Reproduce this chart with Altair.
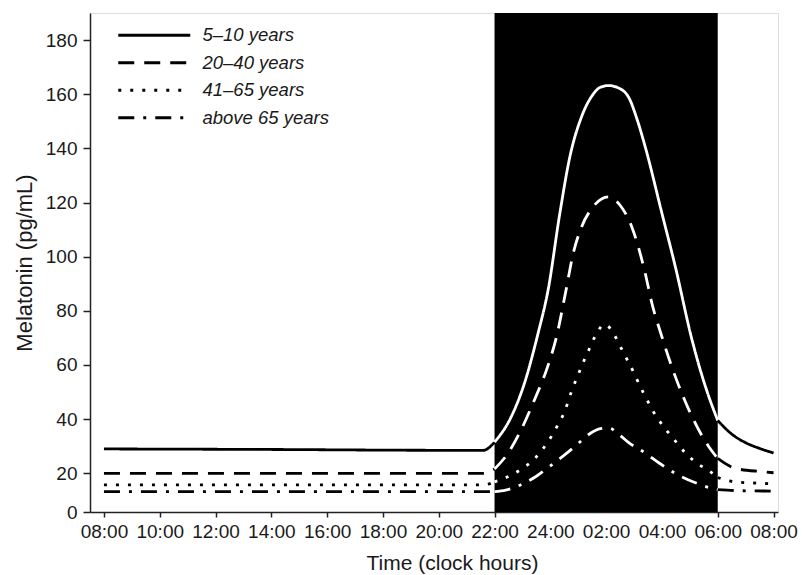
import altair as alt
import pandas as pd

# ---------------- data ----------------
series_names = ["5–10 years", "20–40 years", "41–65 years", "above 65 years"]

tick_hours = [8, 10, 12, 14, 16, 18, 20, 22, 24, 26, 28, 30, 32]
tick_labels = ["08:00", "10:00", "12:00", "14:00", "16:00", "18:00", "20:00",
               "22:00", "24:00", "02:00", "04:00", "06:00", "08:00"]
y_ticks = [0, 20, 40, 60, 80, 100, 120, 140, 160, 180]

night_start = [22]
night_end = [30]

h_510 = [8, 14, 20, 21.6, 22.0, 22.6, 23.07, 23.56, 23.92, 24.34, 24.7, 25.12, 25.5,
         25.8, 26.09, 26.4, 26.8, 27.1, 27.4, 28.0, 28.48, 29.08, 29.56, 30.0, 30.5, 31.0,
         31.5, 32]
v_510 = [29.0, 28.8, 28.5, 28.5, 31.5, 40.9, 53.2, 71.7, 87.7, 116, 136.9, 151.7, 159.5,
         162.6, 163.2, 162.5, 159, 151, 140.6, 116, 96.3, 69.2, 52, 39.5, 34.5, 31.3,
         29.2, 27.5]

h_2040 = [8, 21.6, 22.0, 22.48, 22.95, 23.43, 23.86, 24.22, 24.55, 24.82, 25.12, 25.5,
          26.08, 26.5, 26.92, 27.4, 27.64, 28.0, 28.48, 29.08, 29.68, 30.0, 30.64, 31.6, 32]
v_2040 = [20, 20, 21.6, 27.4, 36, 47.1, 58.1, 70.4, 87, 101.2, 111, 118,
          122.1, 119, 111, 93.9, 82.8, 70.4, 55.7, 40.9, 29.8, 25.5, 21.8, 20.6, 20.2]

h_4165 = [8, 21.6, 22.0, 22.6, 23.0, 23.4, 23.7, 24.0, 24.25, 24.5, 24.75, 25.0, 25.2,
          25.4, 25.6, 25.95, 26.3, 26.55, 26.75, 27.0, 27.2, 27.4, 27.65, 27.9, 28.2,
          28.5, 28.85, 29.25, 29.7, 30.0, 30.6, 31.6, 32]
v_4165 = [14, 14, 15.6, 19.1, 21.8, 25, 28.6, 33, 37.5, 42.5, 50, 56.5, 61.5,
          66, 70.5, 75, 71, 66, 62, 57, 52.5, 48.5, 43.5, 39.5, 35.4,
          31.7, 27.4, 23.8, 20.8, 17.8, 15.6, 14.8, 14.5]

h_65 = [8, 21.6, 22.0, 22.4, 23.0, 23.5, 24.0, 24.5, 25.0, 25.4, 25.8, 26.1, 26.5,
        26.8, 27.4, 27.9, 28.5, 29.2, 29.8, 30.0, 30.6, 32]
v_65 = [10.5, 10.5, 10.5, 11.3, 14.5, 18.5, 22.7, 26.7, 31, 34.5, 36.5, 36.7, 34,
        31.4, 27.5, 23.8, 19.8, 15.1, 12.2, 11.6, 11.1, 10.8]

series_data = [(h_510, v_510), (h_2040, v_2040), (h_4165, v_4165), (h_65, v_65)]

rows = []
for name, (hs, vs) in zip(series_names, series_data):
    for h, v in zip(hs, vs):
        phases = []
        if h <= night_start[0]:
            phases.append("before")
        if night_start[0] <= h <= night_end[0]:
            phases.append("night")
        if h >= night_end[0]:
            phases.append("after")
        for p in phases:
            rows.append({"series": name, "hour": h, "value": v, "phase": p})
df = pd.DataFrame(rows)

rect_df = pd.DataFrame({"start": night_start, "end": night_end,
                        "low": [0], "high": [190]})

# ---------------- styling ----------------
FONT = "Liberation Sans"
TXT = "#1a1a1a"

x_scale = alt.Scale(domain=[7.5, 32.16], nice=False, zero=False)
y_scale = alt.Scale(domain=[0, 20, 190], range=[499, 460.3, 0], nice=False, zero=False)

label_expr = "[" + ",".join("'%s'" % t for t in tick_labels) + "][round((datum.value-8)/2)]"

x_axis = alt.Axis(values=tick_hours, labelExpr=label_expr, title="Time (clock hours)",
                  grid=False, tickSize=5, labelPadding=5, labelFlush=False,
                  labelFont=FONT, labelFontSize=19, labelColor=TXT,
                  titleFont=FONT, titleFontSize=21, titleFontWeight="normal",
                  titleColor=TXT, titleX=362, titlePadding=11,
                  domainColor="#222", tickColor="#222", domainWidth=1.5, tickWidth=1.5,
                  tickOpacity={"condition": {"test": "datum.value > 22.5 && datum.value < 29.5",
                                             "value": 0}, "value": 1})
y_axis = alt.Axis(values=y_ticks, title="Melatonin (pg/mL)", grid=False, tickSize=7,
                  labelPadding=6, labelFont=FONT, labelFontSize=19, labelColor=TXT,
                  titleFont=FONT, titleFontSize=22, titleFontWeight="normal",
                  titleColor=TXT, titlePadding=9,
                  domainColor="#222", tickColor="#222", domainWidth=1.5, tickWidth=1.5)

rect = alt.Chart(rect_df).mark_rect(color="black").encode(
    x=alt.X("start:Q", scale=x_scale, axis=x_axis),
    x2="end:Q",
    y=alt.Y("low:Q", scale=y_scale, axis=y_axis),
    y2="high:Q",
)

lines = alt.Chart(df).mark_line(strokeWidth=2.8, interpolate="monotone", strokeCap="butt").encode(
    x=alt.X("hour:Q", scale=x_scale, axis=x_axis),
    y=alt.Y("value:Q", scale=y_scale, axis=y_axis),
    color=alt.Color("phase:N", scale=alt.Scale(domain=["before", "night", "after"],
                                               range=["black", "white", "black"]),
                    legend=None),
    strokeDash=alt.StrokeDash(
        "series:N",
        scale=alt.Scale(domain=series_names,
                        range=[[1, 0], [16, 10], [3, 9], [16, 9, 3, 9]]),
        legend=alt.Legend(title=None, orient="none", legendX=55, legendY=13,
                          symbolType="M-7.2,0H7.2", symbolSize=100,
                          symbolStrokeWidth=2.8, symbolStrokeColor="black",
                          symbolFillColor="transparent",
                          labelFont=FONT, labelFontStyle="italic", labelFontSize=18.5,
                          labelColor=TXT, labelOffset=39, rowPadding=8.5, padding=0),
    ),
    detail="series:N",
)

chart = alt.layer(rect, lines).properties(
    width=688, height=499,
    autosize=alt.AutoSizeParams(type="none"),
    padding={"left": 90, "top": 13, "right": 24, "bottom": 63},
).configure_view(strokeWidth=0).configure(background="white")

chart.save("out.html", embed_options={"renderer": "svg", "actions": False})
